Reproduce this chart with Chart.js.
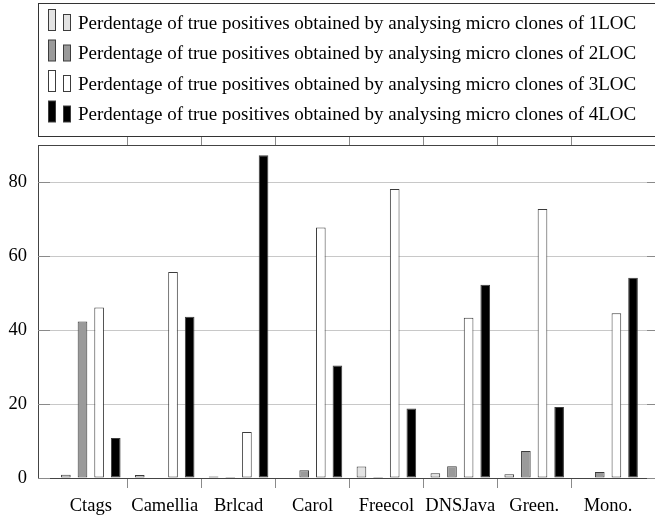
<!DOCTYPE html>
<html>
<head>
<meta charset="utf-8">
<title>True positives of micro clones</title>
<script src="https://cdn.jsdelivr.net/npm/chart.js@4/dist/chart.umd.min.js"></script>
<style>
    html, body { margin: 0; padding: 0; overflow: hidden; background: #ffffff; }
    canvas { display: block; }
</style>
</head>
<body>
<canvas id="categoryChart" width="672" height="519"></canvas>
<script>

// --------------------------------------------------------------------------
//
//                            chart data
//
// --------------------------------------------------------------------------

const categories = ['Ctags', 'Camellia', 'Brlcad', 'Carol', 'Freecol', 'DNSJava', 'Green.', 'Mono.'];

const loc1 = [0.9, 0.8, 0.4, 0, 3.1, 1.3, 1.0, 0];
const loc2 = [42.3, 0, 0.3, 2.1, 0.3, 3.2, 7.3, 1.6];
const loc3 = [46.1, 55.7, 12.4, 67.7, 78.1, 43.3, 72.7, 44.5];
const loc4 = [10.8, 43.6, 87.2, 30.4, 18.8, 52.2, 19.2, 54.1];

const seriesLabels = [
    'Perdentage of true positives obtained by analysing micro clones of 1LOC',
    'Perdentage of true positives obtained by analysing micro clones of 2LOC',
    'Perdentage of true positives obtained by analysing micro clones of 3LOC',
    'Perdentage of true positives obtained by analysing micro clones of 4LOC'
];

const yTicks = [0, 20, 40, 60, 80];

// --------------------------------------------------------------------------
//
//                            styles
//
// --------------------------------------------------------------------------

const barFills = ['#e3e3e3', '#9a9a9a', '#ffffff', '#000000'];
const outline = '#3c3c3c';
const serif = { family: 'Liberation Serif', size: 18.5 };

// x range leaves some room left and right of the outer groups
const xMin = -0.7145;
const xMax = 7.689;

// two little bars, as used for ybar legends
function makeLegendIcon(fill) {
    const icon = document.createElement('canvas');
    icon.width = 64;
    icon.height = 36;
    const c = icon.getContext('2d');
    c.fillStyle = fill;
    c.strokeStyle = outline;
    c.lineWidth = 1;
    c.fillRect(40, 3, 8, 22);
    c.strokeRect(40.5, 3.5, 7, 21);
    c.fillRect(55, 8, 8, 17);
    c.strokeRect(55.5, 8.5, 7, 16);
    return icon;
}

const legendIcons = barFills.map(makeLegendIcon);

// only the inner category boundaries get a tick mark
function boundaryTickColor(ctx) {
    return (ctx.index > 0 && ctx.index < categories.length) ? '#8a8a8a' : 'rgba(0,0,0,0)';
}

function categoryTicks(scale) {
    scale.ticks = categories.map((_, i) => ({ value: i }));
}

// inner ticks on both y sides and the box round the legend
const frameLines = {
    id: 'frameLines',
    beforeDatasetsDraw(chart) {
        const { ctx, chartArea, scales } = chart;
        const y = scales.y;
        ctx.save();
        ctx.strokeStyle = '#8a8a8a';
        ctx.lineWidth = 1;
        ctx.beginPath();
        y.ticks.forEach((t) => {
            const py = Math.round(y.getPixelForValue(t.value)) + 0.5;
            ctx.moveTo(chartArea.left, py);
            ctx.lineTo(chartArea.left + 12, py);
            ctx.moveTo(chartArea.right - 12, py);
            ctx.lineTo(chartArea.right, py);
        });
        ctx.stroke();
        ctx.restore();
    },
    afterDraw(chart) {
        const { ctx, chartArea, legend } = chart;
        const left = Math.round(chartArea.left) + 0.5;
        const top = Math.round(legend.top) + 0.5;
        const bottom = Math.round(chartArea.top) - 8.5;
        ctx.save();
        ctx.strokeStyle = '#333333';
        ctx.lineWidth = 1;
        ctx.strokeRect(left, top, chartArea.right - left, bottom - top);
        ctx.restore();
    }
};

// --------------------------------------------------------------------------
//
//                            display chart
//
// --------------------------------------------------------------------------

function displayBarChart() {

    console.log(' ');
    console.log('display bar chart ...');

    Chart.defaults.font.family = serif.family;
    Chart.defaults.font.size = serif.size;
    Chart.defaults.color = '#000000';

    const series = [loc1, loc2, loc3, loc4];

    const chartData = {
        datasets: series.map((values, s) => ({
            label: seriesLabels[s],
            data: values.map((v, i) => ({ x: i, y: v })),
            backgroundColor: barFills[s],
            borderColor: outline,
            borderWidth: 1,
            borderSkipped: false,
            categoryPercentage: 0.9,
            barPercentage: 0.58
        }))
    };

    const options = {
        responsive: false,
        animation: false,
        layout: { padding: { top: 3, right: 13, bottom: 0, left: 0 } },
        plugins: {
            tooltip: { enabled: false },
            legend: {
                position: 'top',
                align: 'start',
                labels: {
                    usePointStyle: true,
                    pointStyleWidth: 57,
                    padding: 11.5,
                    color: '#000000',
                    font: { family: serif.family, size: 19 },
                    generateLabels: (chart) => {
                        const items = Chart.defaults.plugins.legend.labels.generateLabels(chart);
                        items.forEach((item, i) => { item.pointStyle = legendIcons[i]; });
                        return items;
                    }
                }
            }
        },
        scales: {
            x: {
                type: 'linear',
                axis: 'x',
                position: 'bottom',
                offset: false,
                min: xMin,
                max: xMax,
                afterBuildTicks: categoryTicks,
                afterFit: (scale) => { scale.height = 41; },
                grid: {
                    display: true,
                    drawOnChartArea: false,
                    drawTicks: true,
                    tickLength: 10,
                    offset: true,
                    tickColor: boundaryTickColor
                },
                border: { display: true, color: '#444444', width: 1 },
                ticks: {
                    autoSkip: false,
                    maxRotation: 0,
                    padding: 7,
                    font: serif,
                    callback: (value) => categories[value] ?? ''
                }
            },
            x2: {
                type: 'linear',
                axis: 'x',
                position: 'top',
                offset: false,
                min: xMin,
                max: xMax,
                afterBuildTicks: categoryTicks,
                afterFit: (scale) => { scale.height = 10; },
                grid: {
                    display: true,
                    drawOnChartArea: false,
                    drawTicks: true,
                    tickLength: 8,
                    offset: true,
                    tickColor: boundaryTickColor
                },
                border: { display: true, color: '#444444', width: 1 },
                ticks: { display: false }
            },
            y: {
                min: 0,
                max: 90,
                afterBuildTicks: (scale) => { scale.ticks = yTicks.map((v) => ({ value: v })); },
                afterFit: (scale) => { scale.width = 38; },
                grid: { color: '#c8c8c8', drawTicks: false },
                border: { display: true, color: '#444444', width: 1 },
                ticks: { padding: 11, font: serif }
            }
        }
    };

    const ctx = document.getElementById('categoryChart').getContext('2d');

    window.categoryChart = new Chart(ctx, {
        type: 'bar',
        data: chartData,
        options: options,
        plugins: [frameLines]
    });
}

displayBarChart();

</script>
</body>
</html>
